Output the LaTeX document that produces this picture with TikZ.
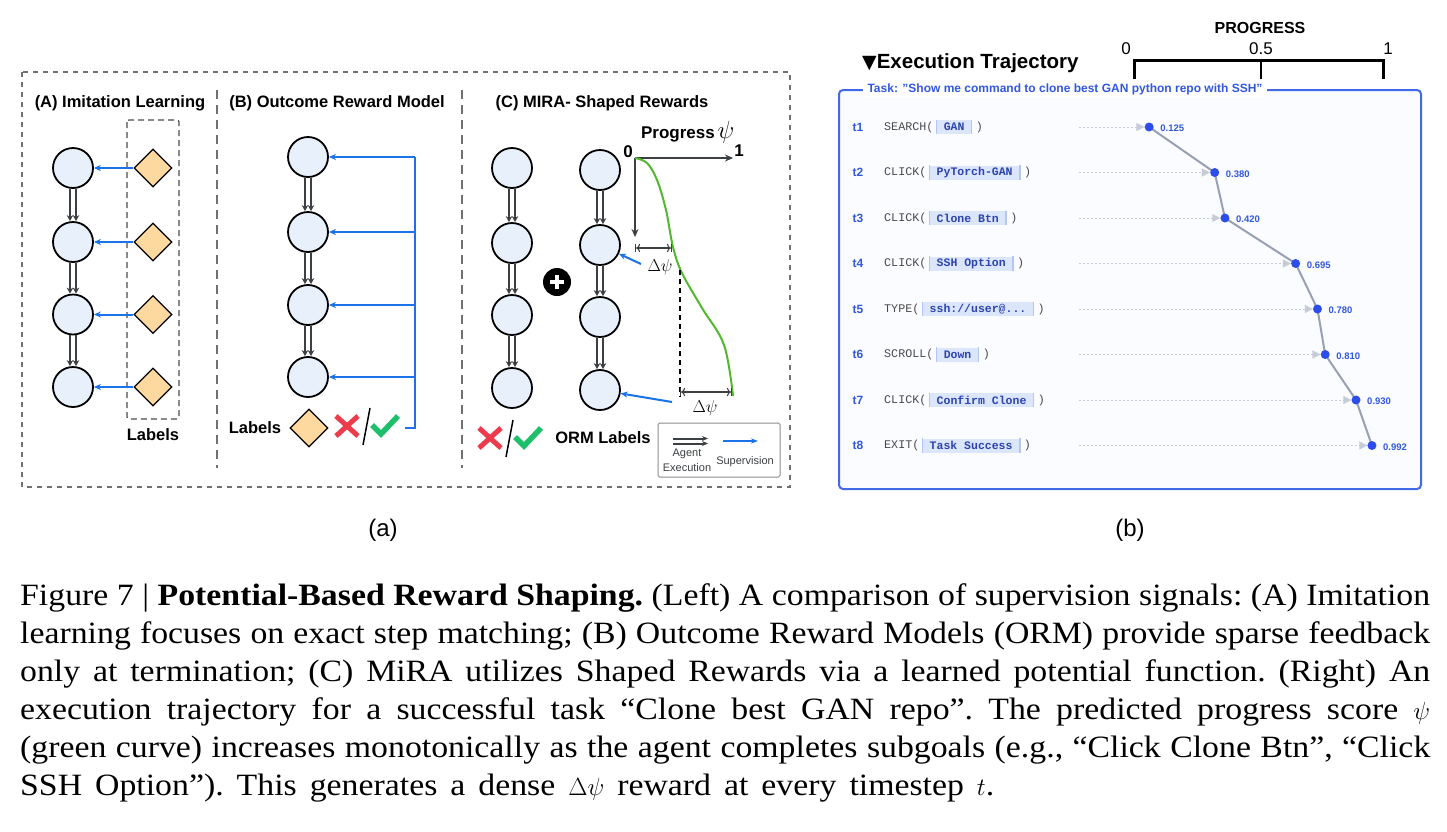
\documentclass[tikz,border=0pt]{standalone}
\usepackage{fontspec}
\setmainfont{Liberation Serif}
\setsansfont{Liberation Sans}
\setmonofont{Liberation Mono}
\newfontfamily\symfont{DejaVu Sans}
\newfontfamily\capfont[FakeStretch=1.09]{Liberation Serif}
\usetikzlibrary{arrows.meta,shapes.geometric,calc}
\definecolor{circfill}{HTML}{E8F0FC}
\definecolor{diafill}{HTML}{FDD9A0}
\definecolor{supblue}{HTML}{1A73E8}
\definecolor{execgray}{HTML}{3C4043}
\definecolor{boxgray}{HTML}{707070}
\definecolor{curvegreen}{HTML}{52B82E}
\definecolor{xred}{HTML}{EC3B4B}
\definecolor{okgreen}{HTML}{1DBF6B}
\definecolor{tblue}{HTML}{4169E8}
\definecolor{tbluetext}{HTML}{3158E0}
\definecolor{tfill}{HTML}{FBFCFF}
\definecolor{argfill}{HTML}{DCE6FB}
\definecolor{argedge}{HTML}{B3C5F2}
\definecolor{argtext}{HTML}{2B44B0}
\definecolor{ptblue}{HTML}{2C4DEB}
\definecolor{trajgray}{HTML}{98A0B3}
\definecolor{dotgray}{HTML}{C5CCD8}
\definecolor{monogray}{HTML}{4A4A4A}
\newcommand\pxs[1]{\fontsize{#1pt}{#1pt}\selectfont}
\newcommand\capsetup{\capfont\frenchspacing\pxs{31}\spaceskip=8pt plus 8pt minus 4pt\relax}
\newcommand\lastsetup{\spaceskip=13pt\relax}
\newcommand\execpair[2]{%
  \draw[exe] ($(#1.south)+(-3,0)$) -- ($(#2.north)+(-3,0)$);
  \draw[exe] ($(#1.south)+(3,0)$) -- ($(#2.north)+(3,0)$);}
\newcommand\xcheck[2]{%
  \draw[xred, line width=5pt] (#1-11,#2-10) -- (#1+11,#2+10) (#1-11,#2+10) -- (#1+11,#2-10);
  \draw[black, line width=1.5pt] (#1+23,#2-18) -- (#1+16,#2+19);
  \draw[okgreen, line width=5.5pt, line join=miter] (#1+25,#2-1) -- (#1+34,#2+8) -- (#1+51,#2-10);}
\newcommand\trow[5]{%
  \node[tlab] (t#1) at (858,#2) {t#1};
  \node[act, anchor=west] (act#1) at (884,#2) {#3(};
  \node[arg, anchor=west] (arg#1) at ([xshift=3pt]act#1.east) {#4};
  \draw[argedge, line width=1.6pt] (arg#1.north east) -- (arg#1.south east);
  \draw[argedge, line width=0.8pt] (arg#1.north west) -- (arg#1.south west);
  \node[act, anchor=west] (cl#1) at ([xshift=4pt]arg#1.east) {)};
  \pgfmathsetmacro\px{1117+257*#5}
  \coordinate (p#1) at (\px,#2);
  \coordinate (ds#1) at (1079,#2);
  \node[val, anchor=west] (v#1) at ([xshift=11pt,yshift=-1.5pt]p#1) {#5};
}
\begin{document}
\begin{tikzpicture}[x=1pt,y=-1pt,
  state/.style={circle, draw=black, line width=1.8pt, fill=circfill, minimum size=40pt, inner sep=0pt},
  labeld/.style={diamond, draw=black, line width=1.3pt, fill=diafill, minimum width=38pt, minimum height=38pt, inner sep=0pt},
  supa/.style={supblue, line width=2pt, -{Stealth[length=7pt,width=6pt]}},
  exe/.style={execgray, line width=2.4pt, -{Stealth[length=6pt,width=6.5pt]}},
  ptitle/.style={font=\sffamily\bfseries\pxs{16.5}, inner sep=0pt},
  lbl/.style={font=\sffamily\bfseries\pxs{16.5}, inner sep=0pt},
  dash1/.style={boxgray, line width=1.6pt, dash pattern=on 5pt off 5pt},
  dash2/.style={boxgray, line width=1.4pt, dash pattern=on 9pt off 6pt},
  tlab/.style={font=\sffamily\bfseries\pxs{12}, text=tbluetext, inner sep=0pt},
  act/.style={font=\ttfamily\pxs{11.7}, text=monogray, inner sep=0pt},
  arg/.style={font=\ttfamily\bfseries\pxs{11.5}, text=argtext, fill=argfill, inner xsep=7pt, inner ysep=0pt, minimum height=14pt},
  val/.style={font=\sffamily\bfseries\pxs{9.5}, text=tbluetext, inner sep=0pt},
  pt/.style={circle, fill=ptblue, minimum size=9pt, inner sep=0pt},
  dotarrow/.style={dotgray, line width=1pt, dash pattern=on 2pt off 2pt, -{Triangle[length=8pt,width=8pt]}},
  dimline/.style={execgray, line width=1.1pt, |<->|},
]
\fill[white] (0,0) rectangle (1447,831);
\useasboundingbox (0,0) rectangle (1447,831);

% ---------------- panel (a) frame
\draw[dash1] (22,72) rectangle (790,487);
\draw[dash2] (217,90) -- (217,468);
\draw[dash2] (462,90) -- (462,468);

% ---------------- (A)
\node[ptitle] (ta) at (120,103) {(A) Imitation Learning};
\draw[black!70, line width=1.2pt, dash pattern=on 6pt off 4pt, rounded corners=2pt] (127,120) rectangle (179,419);
\foreach \i/\y in {1/168,2/242,3/314.5,4/387} {
  \node[state] (a\i) at (73,\y) {};
  \node[labeld] (la\i) at (153,\y) {};
  \draw[supa] (la\i.west) -- (a\i.east);
}
\execpair{a1}{a2}\execpair{a2}{a3}\execpair{a3}{a4}
\node[lbl] (alab) at (153,435) {Labels};

% ---------------- (B)
\node[ptitle] (tb) at (337,103) {(B) Outcome Reward Model};
\foreach \i/\y in {1/157,2/232,3/305,4/377} {
  \node[state] (b\i) at (308,\y) {};
}
\execpair{b1}{b2}\execpair{b2}{b3}\execpair{b3}{b4}
\coordinate (bt) at (415,157);
\coordinate (bb) at (415,428);
\coordinate (bs) at (405,428);
\draw[supblue, line width=2pt] (bs) -- (bb) -- (bt);
\foreach \i in {1,...,4} { \draw[supa] (b\i.east -| bt) -- (b\i.east); }
\node[lbl] (blab) at (255,428) {Labels};
\node[labeld] (bd) at (309,428) {};
\xcheck{347}{426}

% ---------------- (C)
\node[ptitle] (tc) at (602,103) {(C) MIRA- Shaped Rewards};
\foreach \i/\y in {1/168,2/243,3/315,4/388} {
  \node[state] (c\i) at (512,\y) {};
}
\foreach \i/\y in {1/170,2/245,3/317,4/390} {
  \node[state] (e\i) at (600,\y) {};
}
\execpair{c1}{c2}\execpair{c2}{c3}\execpair{c3}{c4}
\execpair{e1}{e2}\execpair{e2}{e3}\execpair{e3}{e4}
\node[circle, fill=black, minimum size=28pt, inner sep=0pt] (plus) at (557,282) {};
\draw[white, line width=3.5pt] ($(plus)+(-7,0)$) -- ($(plus)+(7,0)$) ($(plus)+(0,-7)$) -- ($(plus)+(0,7)$);

\coordinate (O) at (635,158);
\coordinate (Xend) at (733,158);
\coordinate (Yend) at (635,237);
\draw[execgray, line width=2pt, -{Stealth[length=8pt,width=7pt]}] (O) -- (Xend);
\draw[execgray, line width=2pt, -{Stealth[length=8pt,width=7pt]}] (O) -- (Yend);
\node[font=\sffamily\bfseries\pxs{17}, inner sep=0pt] (zero) at (628,152) {0};
\node[font=\sffamily\bfseries\pxs{17}, inner sep=0pt] (one) at (739,151) {1};
\node[font=\sffamily\bfseries\pxs{17}, inner sep=0pt] (prog) at (678,134) {Progress};
\node[inner sep=0pt] (psi) at (726,132) {\pxs{24}$\psi$};
\draw[curvegreen, line width=2pt] plot[smooth, tension=0.6] coordinates {(635,158) (647,163) (657,180) (666,210) (673,247) (682,273) (702,308) (724,345) (733,396)};
\coordinate (d1a) at (635,248); \coordinate (d1b) at (672,248);
\draw[dimline] (d1a) -- (d1b);
\node[inner sep=0pt] (dpsi1) at (660,267) {\pxs{17}$\Delta\psi$};
\draw[black, line width=2pt, dash pattern=on 5pt off 4pt] (680,270) -- (680,397);
\coordinate (d2a) at (680,392); \coordinate (d2b) at (732,392);
\draw[dimline] (d2a) -- (d2b);
\node[inner sep=0pt] (dpsi2) at (705,408) {\pxs{17}$\Delta\psi$};
\coordinate (s1) at (641,264);
\coordinate (s2) at (672,402);
\draw[supa] (s1) -- (e2);
\draw[supa] (s2) -- (e4);
\xcheck{490}{438}
\node[lbl] (orm) at (603,438) {ORM Labels};
\node[draw=boxgray!80, line width=1pt, rounded corners=1.5pt, minimum width=122pt, minimum height=54pt, inner sep=0pt] (leg) at (719,450) {};
\coordinate (l1a) at (673,438.5); \coordinate (l1b) at (708,438.5);
\coordinate (l2a) at (673,443.5); \coordinate (l2b) at (708,443.5);
\draw[execgray, line width=2pt, -{Stealth[length=6pt,width=5pt]}] (l1a) -- (l1b);
\draw[execgray, line width=2pt, -{Stealth[length=6pt,width=5pt]}] (l2a) -- (l2b);
\coordinate (l3a) at (723,441); \coordinate (l3b) at (758,441);
\draw[supblue, line width=1.6pt, -{Stealth[length=7pt,width=5pt]}] (l3a) -- (l3b);
\node[font=\sffamily\pxs{11}, text=execgray, inner sep=0pt] (lagent) at (687,454) {Agent};
\node[font=\sffamily\pxs{11}, text=execgray, inner sep=0pt] (lexec) at (687,468) {Execution};
\node[font=\sffamily\pxs{11}, text=execgray, inner sep=0pt] (lsup) at (745,462) {Supervision};

\node[font=\sffamily\pxs{24}, inner sep=0pt] (suba) at (383,530) {(a)};

% ---------------- panel (b)
\node[font=\sffamily\bfseries\pxs{16}, inner sep=0pt] (progt) at (1260,28) {PROGRESS};
\node[font=\sffamily\pxs{17}, inner sep=0pt] (s0) at (1126,49) {0};
\node[font=\sffamily\pxs{17}, inner sep=0pt] (s05) at (1261,49) {0.5};
\node[font=\sffamily\pxs{17}, inner sep=0pt] (s1l) at (1388,49) {1};
\draw[black, line width=3pt] (1134,79) -- (1134,60) -- (1383,60) -- (1383,79);
\draw[black, line width=2pt] (1261,60) -- (1261,79);
\node[anchor=west, inner sep=0pt] (extitle) at (862,63) {{\symfont\pxs{19}▼}{\sffamily\bfseries\pxs{20.5}Execution Trajectory}};

\draw[tblue, line width=2pt, fill=tfill, rounded corners=4pt] (839,90) rectangle (1421,489);
\node[fill=white, inner xsep=5pt, inner ysep=2pt, font=\sffamily\bfseries\pxs{12}, text=tbluetext] (task) at (1065,89) {Task: "Show me command to clone best GAN python repo with SSH"};

\trow{1}{127}{SEARCH}{GAN}{0.125}
\trow{2}{172.5}{CLICK}{PyTorch-GAN}{0.380}
\trow{3}{218}{CLICK}{Clone Btn}{0.420}
\trow{4}{263.5}{CLICK}{SSH Option}{0.695}
\trow{5}{309}{TYPE}{ssh://user@...}{0.780}
\trow{6}{354.5}{SCROLL}{Down}{0.810}
\trow{7}{400}{CLICK}{Confirm Clone}{0.930}
\trow{8}{445.5}{EXIT}{Task Success}{0.992}
\draw[trajgray, line width=2pt] (p1) -- (p2) -- (p3) -- (p4) -- (p5) -- (p6) -- (p7) -- (p8);
\foreach \i in {1,...,8} {
  \node[pt] (pt\i) at (p\i) {};
  \draw[dotarrow] (ds\i) -- (pt\i.west);
}

\node[font=\sffamily\pxs{24}, inner sep=0pt] (subb) at (1130,530) {(b)};

% ---------------- caption
\begin{scope}[every node/.style={anchor=base west, inner sep=0pt, font=\capsetup}]
\node (cap1) at (20,605) {\makebox[1410pt][s]{Figure 7 | \textbf{Potential-Based Reward Shaping.} (Left) A comparison of supervision signals: (A) Imitation}};
\node (cap2) at (20,643) {\makebox[1410pt][s]{learning focuses on exact step matching; (B) Outcome Reward Models (ORM) provide sparse feedback}};
\node (cap3) at (20,681) {\makebox[1410pt][s]{only at termination; (C) MiRA utilizes Shaped Rewards via a learned potential function. (Right) An}};
\node (cap4) at (20,719) {\makebox[1410pt][s]{execution trajectory for a successful task “Clone best GAN repo”. The predicted progress score $\psi$}};
\node (cap5) at (20,757) {\makebox[1410pt][s]{(green curve) increases monotonically as the agent completes subgoals (e.g., “Click Clone Btn”, “Click}};
\node (cap6) at (20,795) {\lastsetup SSH Option”). This generates a dense $\Delta\psi$ reward at every timestep $t$.};
\end{scope}
\end{tikzpicture}
\end{document}
